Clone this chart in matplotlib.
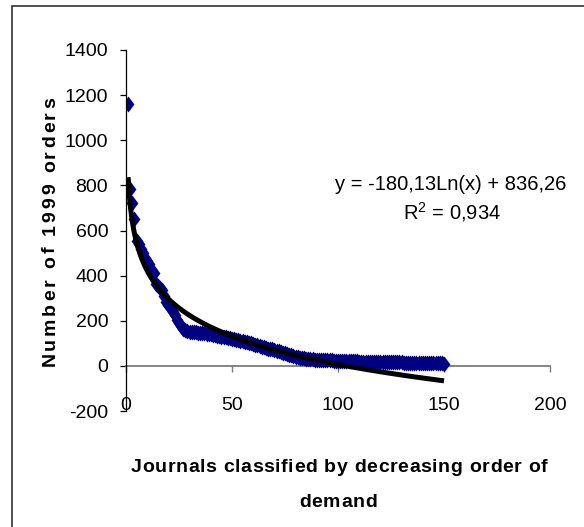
import numpy as np
import matplotlib
matplotlib.use("Agg")
import matplotlib.pyplot as plt
from matplotlib.patches import Rectangle
from matplotlib.font_manager import FontProperties, findfont, get_font
from matplotlib.ft2font import LoadFlags

# ---- data ----
ranks = list(range(1, 151))
orders = [1160, 785, 720, 650, 555, 540, 520, 500, 480, 465,
          450, 430, 410, 365, 355, 345, 335, 310, 285, 270,
          255, 240, 225, 205, 190, 175, 165, 160, 155, 152,
          150, 150, 148, 147, 146, 145, 144, 143, 142, 140,
          138, 136, 134, 132, 130, 128, 126, 124, 122, 120,
          118, 116, 114, 112, 110, 108, 105, 102, 100, 97,
          94, 91, 88, 85, 82, 79, 77, 75, 73, 71,
          68, 65, 62, 59, 56, 53, 50, 47, 44, 41,
          39, 37, 35, 33, 32, 31, 30, 29, 28, 27,
          27, 26, 26, 25, 25, 24, 24, 23, 23, 22,
          22, 22, 21, 21, 21, 20, 20, 20, 20, 19,
          19, 19, 19, 18, 18, 18, 18, 17, 17, 17,
          17, 16, 16, 16, 16, 15, 15, 15, 15, 15,
          14, 14, 14, 14, 14, 14, 13, 13, 13, 13,
          13, 12, 12, 12, 12, 12, 11, 11, 11, 10]
trend_a = -180.13
trend_b = 836.26
eq_text = "y = -180,13Ln(x) + 836,26"
r2_value = "0,934"
xticks = [0, 50, 100, 150, 200]
yticks = [-200, 0, 200, 400, 600, 800, 1000, 1200, 1400]
ylabel = "Number of 1999 orders"
xlabel_lines = ["Journals classified by decreasing order of", "demand"]

W, H = 584, 527
FONT = "Liberation Sans"
plt.rcParams['font.family'] = [FONT, 'DejaVu Sans']
plt.rcParams['mathtext.fontset'] = 'custom'
plt.rcParams['mathtext.rm'] = FONT

fig = plt.figure(figsize=(W / 100, H / 100), dpi=100)
fig.patch.set_facecolor('white')

def fx(px):
    return px / W

def fy(py):
    return (H - py) / H

ax = fig.add_axes([fx(126), fy(411), (550 - 126) / W, (411 - 50) / H])
ax.set_xlim(0, 200)
ax.set_ylim(-200, 1400)

diamond = [(-0.37, 0), (0, 0.5), (0.37, 0), (0, -0.5), (-0.37, 0)]
ax.plot(ranks, orders, linestyle='none', marker=diamond, markersize=11.5,
        color='#000080', markeredgewidth=0, zorder=3)

xt = np.linspace(1, 150, 400)
ax.plot(xt, trend_a * np.log(xt) + trend_b, color='black', lw=3.6,
        solid_capstyle='butt', zorder=4)

for s in ['top', 'right']:
    ax.spines[s].set_visible(False)
ax.spines['bottom'].set_position(('data', 0))
ax.spines['bottom'].set_color('#7a7a7a')
ax.spines['bottom'].set_linewidth(1.3)
ax.spines['left'].set_color('black')
ax.spines['left'].set_linewidth(0.9)
ax.spines['left'].set_zorder(5)

ax.set_xticks(xticks)
ax.set_yticks(yticks)
ax.set_xticklabels([str(v) for v in xticks])
ax.set_yticklabels([str(v) for v in yticks])
ax.tick_params(axis='x', direction='out', length=4.3, width=1, color='#7a7a7a',
               pad=18, labelsize=14)
ax.tick_params(axis='y', direction='out', length=4.3, width=0.9, color='black',
               pad=8.5, labelsize=14)
ax.patch.set_alpha(0)

# equation texts
fig.text(fx(451), fy(184), eq_text, ha='center', va='center', fontsize=14.5)
fig.text(fx(452), fy(212), r"R$^{\mathregular{2}}$ = " + r2_value, ha='center',
         va='center', fontsize=14.5)

# letter-spaced bold labels
def advances(s, fp):
    font = get_font(findfont(fp))
    font.set_size(fp.get_size_in_points(), 100)
    out = []
    for ch in s:
        g = font.load_char(ord(ch), flags=LoadFlags.NO_HINTING)
        out.append(g.linearHoriAdvance / 65536.0)
    return out

LABEL_SIZE = 14

def spaced(s, cx, cy, size, spacing=None, total=None, rotation=0):
    fp = FontProperties(family=FONT, weight='bold', size=size)
    adv = advances(s, fp)
    n = len(s)
    if total is not None:
        spacing = (total - sum(adv)) / (n - 1)
    width = sum(adv) + spacing * (n - 1)
    cap = 0.716 * size * 100 / 72
    pos = -width / 2
    for ch, a in zip(s, adv):
        if ch != ' ':
            if rotation == 0:
                x, y = cx + pos, cy + cap / 2
            else:
                x, y = cx + cap / 2, cy - pos
            fig.text(fx(x), fy(y), ch, fontproperties=fp, ha='left',
                     va='baseline', rotation=rotation, rotation_mode='anchor')
        pos += a + spacing
    return spacing

spaced(ylabel, 48, 232, LABEL_SIZE, total=269, rotation=90)
sp = spaced(xlabel_lines[0], 339, 465, LABEL_SIZE, total=416)
spaced(xlabel_lines[1], 338, 500, LABEL_SIZE, spacing=sp)

# outer border
fig.add_artist(Rectangle((fx(12), -0.2), 2, fy(6) + 0.2, transform=fig.transFigure,
                         fill=False, edgecolor='#222222', lw=1.1, clip_on=False))

fig.savefig('out.png', dpi=100, facecolor='white')
